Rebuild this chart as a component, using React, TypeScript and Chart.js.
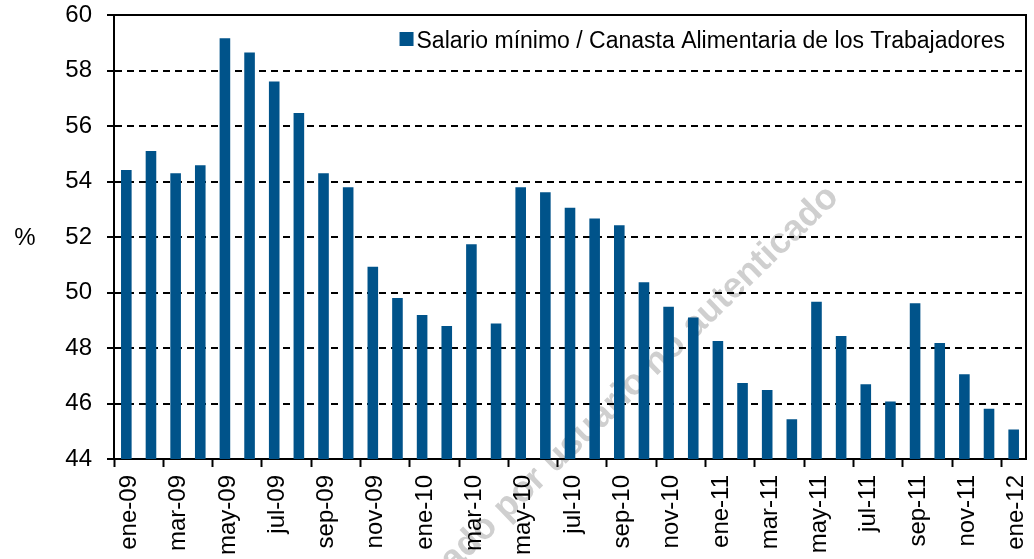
import React, { useEffect, useRef } from 'react';
import { Chart, registerables } from 'chart.js';

Chart.register(...registerables);

const categories: string[] = [
  'ene-09', 'feb-09', 'mar-09', 'abr-09', 'may-09', 'jun-09', 'jul-09', 'ago-09', 'sep-09', 'oct-09', 'nov-09', 'dic-09',
  'ene-10', 'feb-10', 'mar-10', 'abr-10', 'may-10', 'jun-10', 'jul-10', 'ago-10', 'sep-10', 'oct-10', 'nov-10', 'dic-10',
  'ene-11', 'feb-11', 'mar-11', 'abr-11', 'may-11', 'jun-11', 'jul-11', 'ago-11', 'sep-11', 'oct-11', 'nov-11', 'dic-11',
  'ene-12',
];

const salarioCanasta: number[] = [
  54.41, 55.10, 54.30, 54.59, 59.16, 58.65, 57.60, 56.47, 54.30, 53.79, 50.93, 49.80,
  49.19, 48.79, 51.74, 48.88, 53.79, 53.61, 53.05, 52.67, 52.42, 50.37, 49.49, 49.10,
  48.25, 46.74, 46.49, 45.43, 49.67, 48.43, 46.69, 46.07, 49.61, 48.18, 47.05, 45.81,
  45.06,
];

const seriesLabel = 'Salario mínimo / Canasta Alimentaria de los Trabajadores';
const yAxisLabel = '%';
const watermarkText = 'Descargado por usuario no autenticado';
const yMin = 44;
const yMax = 60;
const yStep = 2;

const FONT = '"Liberation Sans", Arial, Helvetica, sans-serif';
const BAR_COLOR = '#00538A';

const watermarkPlugin = {
  id: 'watermark',
  beforeDraw(chart: any) {
    const ctx = chart.ctx;
    ctx.save();
    ctx.translate(840, 199);
    ctx.rotate((-44 * Math.PI) / 180);
    ctx.font = `bold 36px ${FONT}`;
    ctx.fillStyle = '#cfcfcf';
    ctx.textAlign = 'right';
    ctx.textBaseline = 'alphabetic';
    ctx.fillText(watermarkText, 0, 0);
    ctx.restore();
  },
};

const framePlugin = {
  id: 'frameAndLegend',
  afterDraw(chart: any) {
    const { ctx, chartArea } = chart;
    const { left, right, top, bottom } = chartArea;
    ctx.save();
    ctx.strokeStyle = '#000';
    ctx.lineWidth = 2;
    ctx.beginPath();
    ctx.moveTo(left, top);
    ctx.lineTo(right, top);
    ctx.lineTo(right, bottom);
    ctx.stroke();

    ctx.fillStyle = '#000';
    ctx.font = `24px ${FONT}`;
    ctx.textAlign = 'center';
    ctx.textBaseline = 'middle';
    ctx.fillText(yAxisLabel, 25, (top + bottom) / 2 + 1);

    ctx.font = `23px ${FONT}`;
    ctx.textAlign = 'left';
    ctx.textBaseline = 'alphabetic';
    const label = chart.data.datasets[0].label as string;
    const w = ctx.measureText(label).width;
    const textX = right - 21 - w;
    ctx.fillText(label, textX, top + 33);
    ctx.fillStyle = chart.data.datasets[0].backgroundColor;
    ctx.fillRect(textX - 17, top + 17, 14, 14);
    ctx.restore();
  },
};

export default function App() {
  const ref = useRef<HTMLCanvasElement | null>(null);

  useEffect(() => {
    document.body.style.margin = '0';
    if (!ref.current) return;
    const chart = new Chart(ref.current, {
      type: 'bar',
      data: {
        labels: categories,
        datasets: [
          {
            label: seriesLabel,
            data: salarioCanasta,
            backgroundColor: BAR_COLOR,
            borderWidth: 0,
            barPercentage: 0.43,
            categoryPercentage: 1,
          },
        ],
      },
      options: {
        responsive: false,
        animation: false,
        devicePixelRatio: 1,
        layout: { padding: { top: 15, right: 8, left: 0, bottom: 0 } },
        plugins: {
          legend: { display: false },
          tooltip: { enabled: false },
          title: { display: false },
        },
        scales: {
          x: {
            offset: true,
            afterFit: (s: any) => {
              s.height = 100;
              s.paddingLeft = 0;
              s.paddingRight = 0;
            },
            grid: {
              display: true,
              offset: true,
              drawOnChartArea: false,
              drawTicks: true,
              tickLength: 8,
              tickWidth: 2,
              color: '#000',
              tickColor: (c: any) => (c.index % 2 === 0 ? '#000' : 'rgba(0,0,0,0)'),
            },
            border: { display: true, color: '#000', width: 2 },
            ticks: {
              autoSkip: false,
              maxRotation: 90,
              minRotation: 90,
              padding: 8,
              labelOffset: 3,
              color: '#000',
              font: { family: FONT, size: 24 },
              callback: (_v: any, i: number) => (i % 2 === 0 ? categories[i] : ''),
            },
          },
          y: {
            min: yMin,
            max: yMax,
            afterFit: (s: any) => {
              s.width = 114;
              s.paddingTop = 0;
              s.paddingBottom = 0;
            },
            grid: {
              color: '#000',
              lineWidth: 2,
              drawTicks: true,
              tickLength: 7,
              tickWidth: 2,
              tickColor: '#000',
              tickBorderDash: [],
            },
            border: { display: true, color: '#000', width: 2, dash: [7, 5] },
            ticks: {
              stepSize: yStep,
              padding: 15,
              color: '#000',
              font: { family: FONT, size: 24 },
              callback: (v: any) => String(v),
            },
          },
        },
      },
      plugins: [watermarkPlugin, framePlugin],
    } as any);
    return () => chart.destroy();
  }, []);

  return (
    <div style={{ width: 1034, height: 559 }}>
      <canvas ref={ref} width={1034} height={559} style={{ display: 'block', width: 1034, height: 559 }} />
    </div>
  );
}
